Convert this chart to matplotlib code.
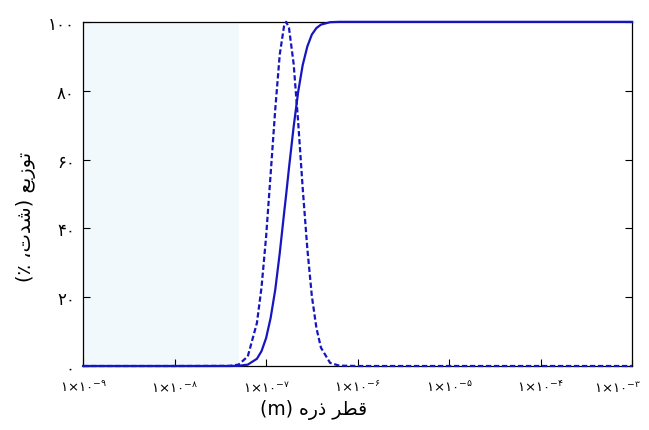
import matplotlib
matplotlib.use("Agg")
import matplotlib.pyplot as plt
import matplotlib.transforms as mtransforms

# particle diameter (m)
diameter = [1e-9, 1e-8, 3.98e-8, 5.01e-8, 6.31e-8, 7.94e-8, 8.91e-8, 1.00e-7,
            1.12e-7, 1.26e-7, 1.41e-7, 1.58e-7, 1.66e-7, 1.78e-7, 2.00e-7,
            2.24e-7, 2.51e-7, 2.82e-7, 3.16e-7, 3.55e-7, 3.98e-7, 5.01e-7,
            6.31e-7, 1e-6, 1e-3]
# distribution (dashed)
dist = [0, 0, 0.04, 0.4, 2.8, 12.5, 22.8, 37.5, 55.6, 74.7, 90.5, 99.2, 100,
        98.2, 87.8, 71.0, 51.8, 34.2, 20.4, 11.0, 5.3, 0.9, 0.1, 0, 0]
# cumulative (solid)
cumul = [0, 0, 0, 0.05, 0.4, 2.1, 4.3, 8.1, 13.9, 22.2, 32.8, 44.9, 50,
         57.6, 69.5, 79.6, 87.4, 92.8, 96.3, 98.2, 99.2, 99.9, 100, 100, 100]

xticks = [1e-9, 1e-8, 1e-7, 1e-6, 1e-5, 1e-4, 1e-3]
xtick_exp = ["۹", "۸", "۷", "۶", "۵", "۴", "۳"]
yticks = [0, 20, 40, 60, 80, 100]
ytick_labels = ["۰", "۲۰", "۴۰", "۶۰", "۸۰", "۱۰۰"]

# arabic text written in visual order with presentation forms
xlabel = "(m) " + "\uFEE9\uFEAD\uFEAB" + " " + "\uFEAE\uFEC4\uFED7"
ylabel = "(\u066A \u060C" + "\uFE95\uFEAA\uFEB7" + ") " + "\uFECA\uFEF3\uFEAF\uFEEE\uFE97"

plt.rcParams['font.family'] = ['DejaVu Sans']
plt.rcParams['mathtext.fontset'] = 'dejavusans'

fig = plt.figure(figsize=(6.49, 4.31), dpi=100)
ax = fig.add_axes([0.128, 0.1485, 0.846, 0.7985])

blue = '#1616c0'
ax.axvspan(1e-9, 5e-8, color='#f2f9fc', zorder=0, lw=0)
ax.plot(diameter, cumul, color=blue, lw=1.6, clip_on=False, zorder=3)
ax.plot(diameter, dist, color=blue, lw=1.6, dashes=(2.4, 1.2), clip_on=False, zorder=3)

ax.set_xscale('log')
ax.set_xlim(1e-9, 1e-3)
ax.set_ylim(0, 100)
ax.set_xticks(xticks)
ax.set_xticklabels([r"$\mathregular{۱×۱۰^{-%s}}$" % e for e in xtick_exp], fontsize=9.5)
ax.minorticks_off()
ax.set_yticks(yticks)
ax.set_yticklabels(ytick_labels, fontsize=12)
ax.tick_params(direction='in', length=5, width=0.8, right=True, pad=6)
ax.tick_params(axis='x', pad=10)

# last x label sits left of its tick, as in the original
last = ax.get_xticklabels()[-1]
last.set_ha('right')
last.set_transform(last.get_transform() +
                   mtransforms.ScaledTranslation(9 / 100, 0, fig.dpi_scale_trans))

for s in ax.spines.values():
    s.set_linewidth(0.9)

ax.set_xlabel(xlabel, fontsize=13.5)
ax.xaxis.set_label_coords(0.42, -0.095)
ax.set_ylabel(ylabel, fontsize=14)
ax.yaxis.set_label_coords(-0.086, 0.436)

fig.savefig("out.png", dpi=100)
